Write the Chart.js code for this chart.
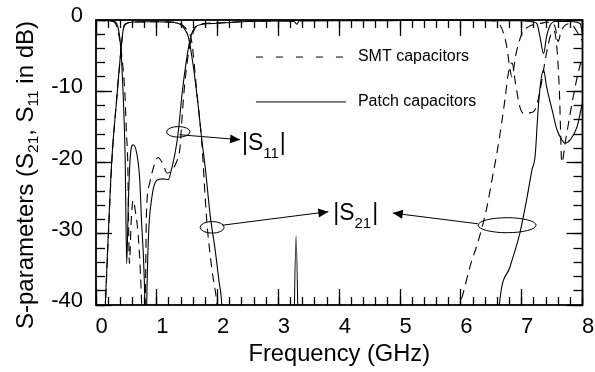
<!DOCTYPE html>
<html><head><meta charset="utf-8">
<script src="https://cdn.jsdelivr.net/npm/chart.js@4/dist/chart.umd.min.js"></script>
<style>html,body{margin:0;padding:0;background:#fff}#wrap{width:595px;height:372px}</style>
</head><body><div id="wrap"><canvas id="c" width="595" height="372"></canvas></div>
<script>
const xTickValues = [0,1,2,3,4,5,6,7,8];
const xMinorStep = 0.2;
const yTickValues = [0,-10,-20,-30,-40];
const yMinorStep = 2;
const seriesNames = ['SMT capacitors','Patch capacitors'];

// Patch capacitors (solid)
const patchS21Freq = [0,0.13,0.15,0.2,0.26,0.34,0.41,0.45,0.5,0.6,0.8,1.0,1.2,1.32,1.38,1.45,1.52,1.6,1.68,1.74,1.8,1.88,1.96,2.02,2.07,2.15,3.22,3.29,3.36,6.5,6.63,6.81,6.97,7.08,7.17,7.22,7.27,7.31,7.36,7.41,7.5,7.58,7.66,7.71,7.8,7.91,8.0];
const patchS21dB   = [-60,-46,-40.5,-30.5,-19.6,-11.2,-4.2,-1.2,-0.5,-0.3,-0.25,-0.25,-0.3,-0.4,-0.6,-1.2,-2.4,-6.5,-12,-16.8,-21,-27.6,-32.3,-36.5,-40.2,-60,-60,-30.3,-60,-60,-40.2,-34.6,-29.9,-25.3,-21,-19.2,-12.6,-8.9,-7,-9.4,-12.6,-15.4,-16.8,-17.3,-16.8,-15,-11.5];
const patchS11Freq = [0,0.2,0.3,0.34,0.38,0.41,0.45,0.48,0.505,0.53,0.56,0.61,0.67,0.72,0.75,0.78,0.805,0.82,0.834,0.86,0.92,1.0,1.1,1.19,1.24,1.3,1.35,1.42,1.49,1.55,1.63,1.76,2.0,2.5,3.0,3.26,3.3,3.34,4,5,6,7.0,7.2,7.25,7.3,7.36,7.41,7.47,7.55,7.8,7.96,8.0];
const patchS11dB   = [-0.05,-0.1,-0.2,-0.5,-1.8,-4.2,-11.2,-19.6,-34.2,-26.2,-19.6,-17.5,-18.7,-22.5,-28.5,-33.2,-40.2,-50,-40,-30.9,-24.8,-22.5,-22.3,-22.4,-21,-18.7,-15.9,-10,-5.5,-2.6,-1,-0.6,-0.45,-0.2,-0.12,-0.2,-0.6,-0.15,-0.1,-0.08,-0.05,-0.1,-0.3,-0.5,-2.3,-4.7,-2.3,-0.7,-0.2,-0.2,-0.5,-1.9];

// SMT capacitors (dashed)
const smtS21Freq = [0,0.12,0.15,0.2,0.26,0.34,0.41,0.45,0.5,0.6,1.0,1.3,1.42,1.5,1.57,1.66,1.74,1.82,1.9,1.99,2.05,5.9,5.98,6.03,6.15,6.29,6.43,6.51,6.59,6.67,6.73,6.78,6.84,6.9,6.97,7.03,7.15,7.22,7.3,7.4,7.48,7.53,7.58,7.62,7.66,7.72,7.8,7.9,8.0];
const smtS21dB   = [-60,-47,-41,-31,-20,-11,-4.4,-1.2,-0.5,-0.3,-0.25,-0.3,-0.7,-1.5,-2.8,-10.3,-17.3,-28,-34.6,-39.8,-45,-45,-40,-38.6,-34.6,-30.9,-26.2,-22.5,-18.8,-14.5,-10.8,-7.5,-6,-9,-12.2,-13.1,-13,-12.6,-10,-5,-2,-1.5,-4,-10,-20,-17,-13,-8.5,-5];
const smtS11Freq = [0,0.2,0.3,0.36,0.42,0.48,0.5,0.52,0.55,0.58,0.61,0.65,0.7,0.75,0.78,0.81,0.83,0.88,0.92,0.97,1.02,1.1,1.17,1.25,1.32,1.38,1.42,1.46,1.52,1.6,1.7,2.0,2.5,3,4,5,6,6.5,6.6,6.7,6.76,6.8,6.84,6.9,7.0,7.1,7.3,7.45,7.55,7.6,7.65,7.8,7.9,8.0];
const smtS11dB   = [-0.05,-0.1,-0.3,-1.5,-4.7,-11.2,-15.9,-19.2,-34.2,-28,-25.3,-27,-30.9,-39.8,-50,-39.8,-27.1,-23,-21.5,-20,-19.3,-20.2,-21.5,-21,-20,-18,-13,-8.9,-4.7,-1.7,-0.6,-0.4,-0.2,-0.1,-0.05,-0.05,-0.05,-0.1,-0.3,-1.8,-4,-6.5,-8,-5,-2,-1,-0.5,-0.3,-1,-3,-1.5,-0.5,-1.5,-3];

const FONT = "'Liberation Sans', Arial, sans-serif";
function pts(f, d){ return f.map((v,i)=>({x:v,y:d[i]})); }
function ds(f,d,dashed){
  return {data:pts(f,d), borderColor:'#000', borderWidth:1.1, pointRadius:0, fill:false,
    cubicInterpolationMode:'monotone', borderDash: dashed?[9,6]:[]};
}
function range(a,b,step){ const r=[]; const n=Math.round((b-a)/step); for(let i=0;i<=n;i++) r.push(+(a+i*step).toFixed(4)); return r; }
const xMinorValues = range(0,8,xMinorStep);
const yMinorValues = range(-40,0,yMinorStep);

function zeroPad(s){ s.paddingLeft=0; s.paddingRight=0; s.paddingTop=0; s.paddingBottom=0; }

// helper axes drawing inward tick marks (negative tick length = inside the plot)
function tickAxis(axis, position, values, len, weight){
  const isX = axis==='x';
  return {
    axis, position, type:'linear', weight,
    min: isX?0:-40, max: isX?8:0,
    afterBuildTicks:s=>{s.ticks=values.map(v=>({value:v}));},
    afterFit:s=>{ if(isX) s.height=0; else s.width=0; zeroPad(s); },
    ticks:{display:false, autoSkip:false},
    border:{display:false},
    grid:{display:true, drawOnChartArea:false, drawTicks:true, tickLength:len, tickColor:'#000', tickWidth:1.3, color:'#000'}
  };
}

const annotations = {
  id:'annotations',
  afterDraw(chart){
    const ctx = chart.ctx, a = chart.chartArea, xs = chart.scales.x, ys = chart.scales.y;
    ctx.save();
    ctx.setLineDash([]);
    ctx.fillStyle = '#000';
    ctx.strokeStyle = '#000';
    ctx.lineWidth = 1.8;
    ctx.strokeRect(a.left, a.top, a.right-a.left, a.bottom-a.top);

    const ln=(x1,y1,x2,y2)=>{ctx.beginPath();ctx.moveTo(x1,y1);ctx.lineTo(x2,y2);ctx.stroke();};
    // legend
    ctx.lineWidth=1;
    const lx1=xs.getPixelForValue(2.63), lx2=xs.getPixelForValue(4.11);
    const ly1=ys.getPixelForValue(-5.2), ly2=ys.getPixelForValue(-11.5);
    ctx.setLineDash([7,13]); ln(lx1,ly1,lx2,ly1); ctx.setLineDash([]);
    ln(lx1,ly2,lx2,ly2);
    ctx.font='16px '+FONT; ctx.textBaseline='middle'; ctx.textAlign='left';
    ctx.fillText(seriesNames[0], lx2+12, ly1);
    ctx.fillText(seriesNames[1], lx2+12, ly2);

    // ellipses and arrows
    const ell=(f,d,rx,ry)=>{ctx.beginPath();ctx.ellipse(xs.getPixelForValue(f),ys.getPixelForValue(d),rx,ry,0,0,Math.PI*2);ctx.stroke();};
    const arrow=(f1,d1,f2,d2)=>{
      const x1=xs.getPixelForValue(f1),y1=ys.getPixelForValue(d1),x2=xs.getPixelForValue(f2),y2=ys.getPixelForValue(d2);
      ln(x1,y1,x2,y2);
      const ang=Math.atan2(y2-y1,x2-x1), L=10, Wd=4.5;
      ctx.beginPath(); ctx.moveTo(x2,y2);
      ctx.lineTo(x2-L*Math.cos(ang)+Wd*Math.sin(ang), y2-L*Math.sin(ang)-Wd*Math.cos(ang));
      ctx.lineTo(x2-L*Math.cos(ang)-Wd*Math.sin(ang), y2-L*Math.sin(ang)+Wd*Math.cos(ang));
      ctx.closePath(); ctx.fill();
    };
    ell(1.354,-15.7,11.7,5.3);
    arrow(1.37,-16.1,2.37,-16.8);
    ell(1.91,-29.1,12,5.8);
    arrow(2.08,-28.8,3.82,-26.9);
    ell(6.76,-28.8,29,7.5);
    arrow(6.28,-28.6,4.88,-27.1);

    const sLabel=(xp,yb,sub)=>{
      ctx.textBaseline='alphabetic'; ctx.textAlign='left';
      ctx.font='23px '+FONT; let cx=xp;
      ctx.fillText('|S',cx,yb); cx+=ctx.measureText('|S').width;
      ctx.font='15px '+FONT; ctx.fillText(sub,cx,yb+8); cx+=ctx.measureText(sub).width;
      ctx.font='23px '+FONT; ctx.fillText('|',cx+1,yb);
    };
    sLabel(xs.getPixelForValue(2.40), ys.getPixelForValue(-18.2), '11');
    sLabel(xs.getPixelForValue(3.90), ys.getPixelForValue(-28.0), '21');

    // y-axis title with subscripts
    ctx.translate(33, (a.top+a.bottom)/2+12.5);
    ctx.rotate(-Math.PI/2);
    const parts=[['S-parameters (S',0],['21',1],[', S',0],['11',1],[' in dB)',0]];
    const big='24px '+FONT, small='15.5px '+FONT;
    let tw=0;
    parts.forEach(p=>{ctx.font=p[1]?small:big; tw+=ctx.measureText(p[0]).width;});
    let cx=-tw/2;
    ctx.textBaseline='alphabetic';
    parts.forEach(p=>{ctx.font=p[1]?small:big; ctx.fillText(p[0],cx,p[1]?5:0); cx+=ctx.measureText(p[0]).width;});
    ctx.restore();
  }
};

new Chart(document.getElementById('c'), {
  type:'line',
  data:{datasets:[
    ds(smtS21Freq,smtS21dB,true),
    ds(smtS11Freq,smtS11dB,true),
    ds(patchS21Freq,patchS21dB,false),
    ds(patchS11Freq,patchS11dB,false)
  ]},
  options:{
    responsive:false, animation:false,
    layout:{padding:{top:20,right:12.5,left:0,bottom:0}},
    plugins:{legend:{display:false},tooltip:{enabled:false}},
    scales:{
      x:{type:'linear',position:'bottom',weight:5,min:0,max:8,
        afterBuildTicks:s=>{s.ticks=xTickValues.map(v=>({value:v}));},
        afterFit:s=>{s.height=67; zeroPad(s);},
        grid:{display:true,drawOnChartArea:false,drawTicks:true,tickLength:-16,tickColor:'#000',tickWidth:1.3},
        border:{display:false},
        ticks:{color:'#000',font:{family:FONT,size:22},padding:25,labelOffset:5.5,maxRotation:0,autoSkip:false},
        title:{display:true,text:'Frequency (GHz)',color:'#000',font:{family:FONT,size:23.7},padding:{top:0,bottom:3}}
      },
      y:{type:'linear',position:'left',weight:5,min:-40,max:0,
        afterBuildTicks:s=>{s.ticks=yTickValues.map(v=>({value:v}));},
        afterFit:s=>{s.width=96; zeroPad(s);},
        grid:{display:true,drawOnChartArea:false,drawTicks:true,tickLength:-16,tickColor:'#000',tickWidth:1.3},
        border:{display:false},
        ticks:{color:'#000',font:{family:FONT,size:22},padding:29,labelOffset:-4,autoSkip:false}
      },
      xMinorBottom: tickAxis('x','bottom',xMinorValues,-8,0),
      xMajorTop:    tickAxis('x','top',xTickValues,-16,0),
      xMinorTop:    tickAxis('x','top',xMinorValues,-8,1),
      yMinorLeft:   tickAxis('y','left',yMinorValues,-9,0),
      yMajorRight:  tickAxis('y','right',yTickValues,-16,0),
      yMinorRight:  tickAxis('y','right',yMinorValues,-9,1)
    }
  },
  plugins:[annotations]
});
</script></body></html>
